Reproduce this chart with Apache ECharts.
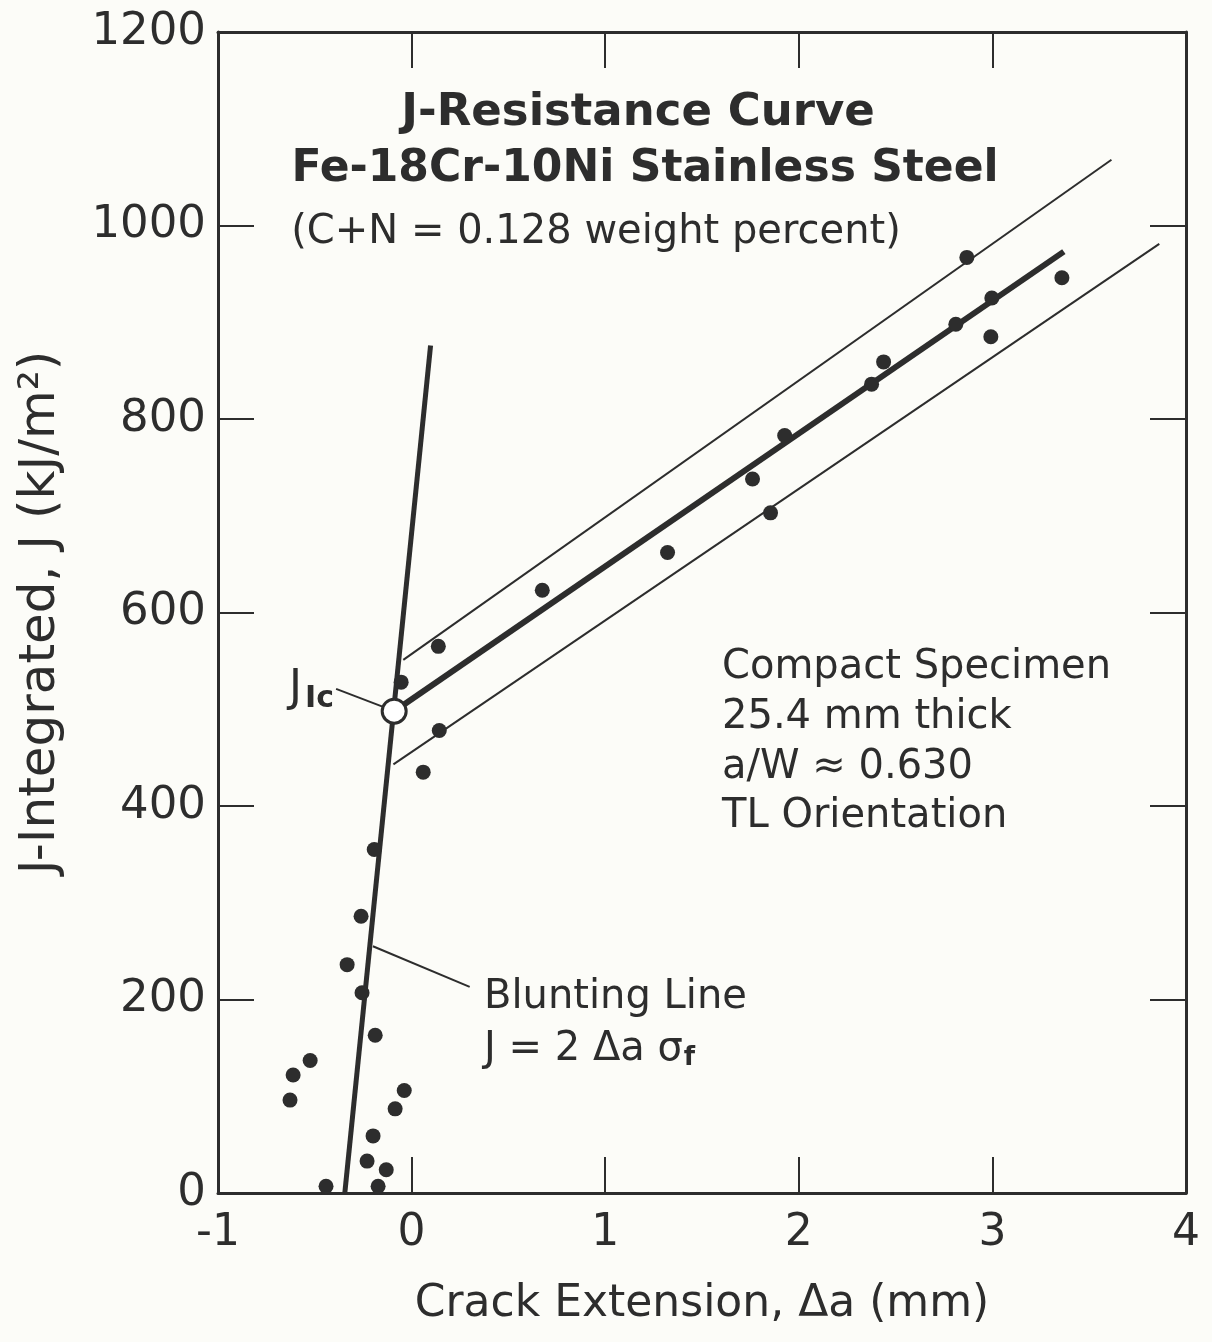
<!DOCTYPE html>
<html><head><meta charset="utf-8">
<script src="https://cdn.jsdelivr.net/npm/echarts@6/dist/echarts.min.js"></script>
<style>html,body{margin:0;padding:0;background:#fcfcf8}#c{width:1212px;height:1342px}</style>
</head><body><div id="c"></div><script>
// Measured data points (crack extension mm, J kJ/m^2)
const measuredX = [-0.628,-0.612,-0.524,-0.442,-0.333,-0.261,-0.256,-0.193,-0.188,-0.230,-0.199,-0.173,-0.131,-0.085,-0.038,-0.054,0.060,0.138,0.143,0.675,1.322,1.761,1.854,1.927,2.376,2.438,2.811,2.868,2.992,2.997,3.359];
const measuredJ = [96,122,137,7,236,286,207,355,163,33,59,7,24,87,106,528,435,565,478,623,662,738,703,783,836,859,898,967,885,925,946];
// Lines
const bluntingLine = [[-0.345,0],[0.098,876]];
const fitLine = [[-0.09,498],[3.369,973]];
const upperBound = [[-0.043,551],[3.615,1068]];
const lowerBound = [[-0.094,443],[3.862,981]];
const jIcPoint = [[-0.09,498]];
const jIcLeader = [[-0.39,521],[-0.14,502]];
const bluntLeader = [[-0.20,255],[0.30,213]];
// Tick labels
const xTickLabels = ['-1','0','1','2','3','4'];
const yTickLabels = ['0','200','400','600','800','1000','1200'];

const INK = '#2d2d2d';
const FONT = '"DejaVu Sans", "Noto Sans", sans-serif';
const pts = measuredX.map((x,i)=>[x, measuredJ[i]]);

const chart = echarts.init(document.getElementById('c'), null, {renderer:'canvas'});
const axisCommon = {
  type:'value',
  axisLine:{show:true,onZero:false,lineStyle:{color:INK,width:3}},
  axisTick:{show:true,inside:true,length:36,lineStyle:{color:INK,width:2}},
  splitLine:{show:false}
};
const lineSeries = (data,w)=>({type:'line',data:data,symbol:'none',silent:true,
  lineStyle:{color:INK,width:w,opacity:1},z:2});

chart.setOption({
  backgroundColor:'#fcfcf8',
  animation:false,
  grid:{left:218,right:26,top:32,bottom:149},
  xAxis:[
    Object.assign({},axisCommon,{position:'bottom',min:-1,max:4,interval:1,
      axisLabel:{margin:19,fontSize:44,color:INK,fontFamily:FONT,
        formatter:v=>xTickLabels[Math.round(v+1)]},
      name:'Crack Extension, Δa (mm)',nameLocation:'middle',nameGap:90,
      nameTextStyle:{fontSize:44,color:INK,fontFamily:FONT}}),
    Object.assign({},axisCommon,{position:'top',min:-1,max:4,interval:1,
      axisLabel:{show:false}})
  ],
  yAxis:[
    Object.assign({},axisCommon,{position:'left',min:0,max:1200,interval:200,
      axisLabel:{margin:12,fontSize:45,color:INK,fontFamily:FONT,
        formatter:v=>yTickLabels[Math.round(v/200)]},
      name:'J-Integrated, J (kJ/m²)',nameLocation:'middle',nameGap:152,
      nameTextStyle:{fontSize:50,color:INK,fontFamily:FONT}}),
    Object.assign({},axisCommon,{position:'right',min:0,max:1200,interval:200,
      axisLabel:{show:false}})
  ],
  series:[
    lineSeries(bluntingLine,5),
    lineSeries(fitLine,6),
    lineSeries(upperBound,2),
    lineSeries(lowerBound,2),
    lineSeries(jIcLeader,2),
    lineSeries(bluntLeader,2),
    {type:'scatter',data:pts,symbol:'circle',symbolSize:15,
      itemStyle:{color:INK,opacity:1},z:3,silent:true},
    {type:'scatter',data:jIcPoint,symbol:'circle',symbolSize:24,
      itemStyle:{color:'#ffffff',borderColor:INK,borderWidth:3,opacity:1},z:4,silent:true}
  ],
  graphic:[
    {type:'text',x:638,y:113,style:{text:'J-Resistance Curve',font:'bold 45px '+FONT,fill:INK,textAlign:'center',textVerticalAlign:'middle'}},
    {type:'text',x:645,y:170,style:{text:'Fe-18Cr-10Ni Stainless Steel',font:'bold 44px '+FONT,fill:INK,textAlign:'center',textVerticalAlign:'middle'}},
    {type:'text',x:596,y:233,style:{text:'(C+N = 0.128 weight percent)',font:'40px '+FONT,fill:INK,textAlign:'center',textVerticalAlign:'middle'}},
    {type:'text',x:722,y:668,style:{text:'Compact Specimen',font:'40px '+FONT,fill:INK,textAlign:'left',textVerticalAlign:'middle'}},
    {type:'text',x:722,y:718,style:{text:'25.4 mm thick',font:'40px '+FONT,fill:INK,textAlign:'left',textVerticalAlign:'middle'}},
    {type:'text',x:722,y:768,style:{text:'a/W ≈ 0.630',font:'40px '+FONT,fill:INK,textAlign:'left',textVerticalAlign:'middle'}},
    {type:'text',x:722,y:817,style:{text:'TL Orientation',font:'40px '+FONT,fill:INK,textAlign:'left',textVerticalAlign:'middle'}},
    {type:'text',x:334,y:690,style:{text:'{a|J}{b|Ic}',textAlign:'right',textVerticalAlign:'middle',
      rich:{a:{font:'44px '+FONT,fill:INK,color:INK},b:{font:'bold 30px '+FONT,fill:INK,color:INK,padding:[18,0,0,3]}}}},
    {type:'text',x:484,y:998,style:{text:'Blunting Line',font:'40px '+FONT,fill:INK,textAlign:'left',textVerticalAlign:'middle'}},
    {type:'text',x:484,y:1050,style:{text:'{a|J = 2 Δa σ}{b|f}',textAlign:'left',textVerticalAlign:'middle',
      rich:{a:{font:'40px '+FONT,fill:INK,color:INK},b:{font:'bold 26px '+FONT,fill:INK,color:INK,padding:[16,0,0,1]}}}}
  ]
});
</script></body></html>
